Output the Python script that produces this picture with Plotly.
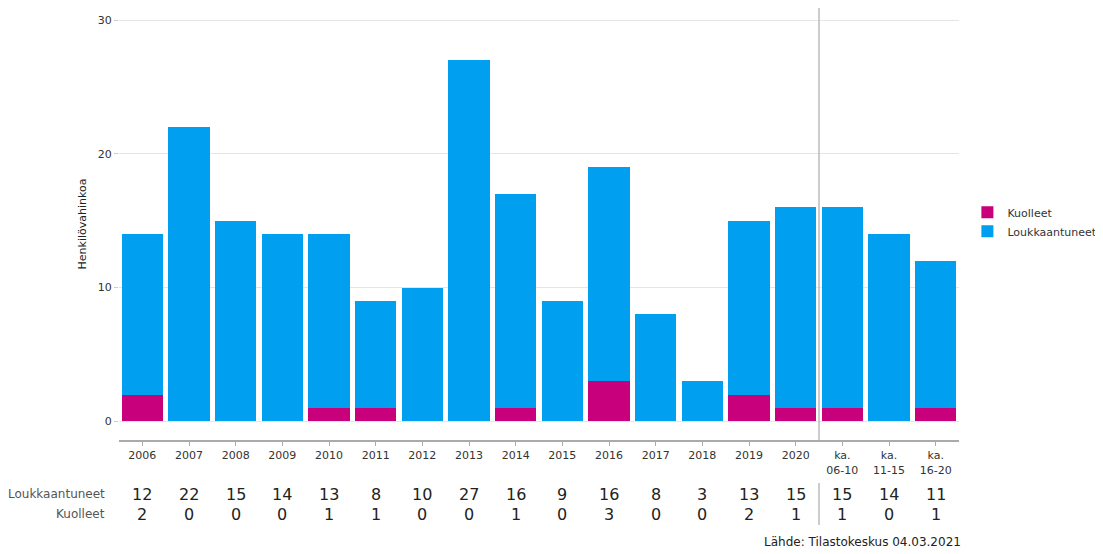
import plotly.graph_objects as go

FONT = "DejaVu Sans"
BLUE = "#009FEF"
MAGENTA = "#C8007B"

categories = ["2006", "2007", "2008", "2009", "2010", "2011", "2012", "2013", "2014",
              "2015", "2016", "2017", "2018", "2019", "2020",
              "ka.<br>06-10", "ka.<br>11-15", "ka.<br>16-20"]
loukkaantuneet = [12, 22, 15, 14, 13, 8, 10, 27, 16, 9, 16, 8, 3, 13, 15, 15, 14, 11]
kuolleet = [2, 0, 0, 0, 1, 1, 0, 0, 1, 0, 3, 0, 0, 2, 1, 1, 0, 1]
y_ticks = [0, 10, 20, 30]
source_text = "Lähde: Tilastokeskus 04.03.2021"

xs = list(range(len(categories)))

fig = go.Figure()
fig.add_trace(go.Bar(x=xs, y=kuolleet, name="Kuolleet", marker=dict(color=MAGENTA, line_width=0)))
fig.add_trace(go.Bar(x=xs, y=loukkaantuneet, name="Loukkaantuneet",
                     marker=dict(color=BLUE, line_width=0)))

# table below the chart
rows = [("Loukkaantuneet", loukkaantuneet, -0.125), ("Kuolleet", kuolleet, -0.1713)]
for label, vals, yy in rows:
    fig.add_annotation(x=0, xref="paper", xshift=-12, y=yy, yref="paper", text=label,
                       showarrow=False, xanchor="right", yanchor="middle",
                       font=dict(family=FONT, size=12, color="#555"))
    for i, v in enumerate(vals):
        fig.add_annotation(x=i, xref="x", y=yy, yref="paper", text=str(v),
                           showarrow=False, xanchor="center", yanchor="middle",
                           font=dict(family=FONT, size=16, color="#222"))

fig.add_annotation(x=1, xref="paper", xshift=4, y=-0.236, yref="paper", text=source_text,
                   showarrow=False, xanchor="right", yanchor="middle",
                   font=dict(family=FONT, size=12, color="#222"))

# separator between years and averages
fig.add_shape(type="line", x0=14.5, x1=14.5, xref="x", y0=0, y1=1, yref="paper",
              line=dict(color="#bbbbbb", width=1.5))
fig.add_shape(type="line", x0=14.5, x1=14.5, xref="x", y0=-0.0995, y1=-0.1968, yref="paper",
              line=dict(color="#bbbbbb", width=1.5))

fig.update_layout(
    width=1095, height=546,
    barmode="stack", bargap=0.12,
    paper_bgcolor="white", plot_bgcolor="white",
    font=dict(family=FONT, size=11, color="#333"),
    margin=dict(l=111, r=144, t=0, b=114, autoexpand=False),
    xaxis=dict(tickmode="array", tickvals=xs, ticktext=categories, range=[-0.5, 17.5],
               showline=True, linecolor="#aaaaaa", linewidth=2,
               ticks="outside", ticklen=4, tickcolor="#aaaaaa",
               tickfont=dict(family=FONT, size=11, color="#333"), showgrid=False),
    yaxis=dict(range=[-1.4, 30.9], tickvals=y_ticks, showgrid=True, gridcolor="#e5e5e5",
               zeroline=False, ticks="outside", ticklen=4, tickcolor="#cccccc",
               tickfont=dict(family=FONT, size=11, color="#333"),
               title=dict(text="Henkilövahinkoa", font=dict(family=FONT, size=11, color="#222"),
                          standoff=8)),
    legend=dict(x=1.01, y=0.505, xanchor="left", yanchor="middle", traceorder="normal",
                font=dict(family=FONT, size=11, color="#333"), bgcolor="rgba(0,0,0,0)"),
)

fig.write_html("out.html")
